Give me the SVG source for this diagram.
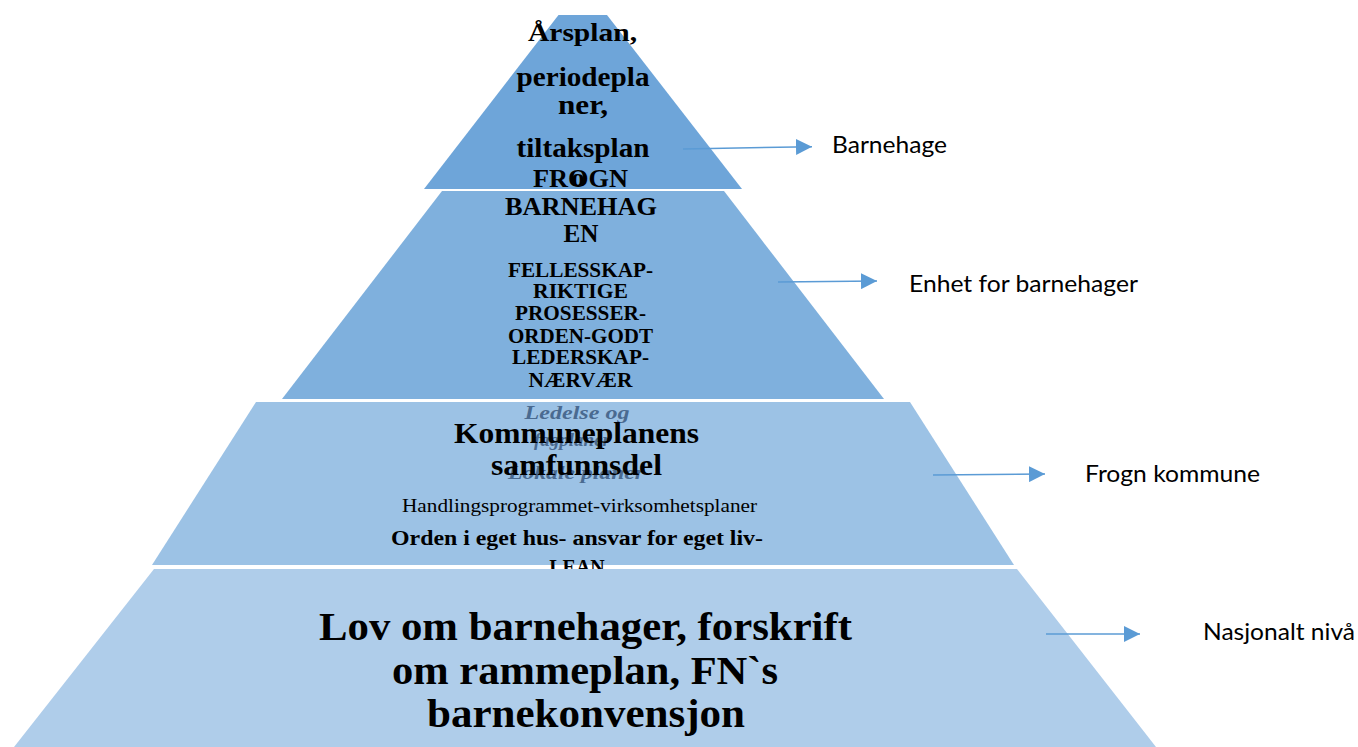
<svg xmlns="http://www.w3.org/2000/svg" width="1358" height="747" viewBox="0 0 1358 747">
<defs>
<style>
.t{font-family:"Liberation Serif","Times New Roman",serif;font-weight:bold;fill:#000;text-anchor:middle}
.g{font-family:"Liberation Serif","Times New Roman",serif;font-weight:bold;font-style:italic;fill:#4a6a90;text-anchor:middle}
.r{font-family:"Liberation Serif","Times New Roman",serif;fill:#000;text-anchor:middle}
.lbl{font-family:Lato,"Open Sans",sans-serif;font-size:24px;fill:#000}
.ar{stroke:#5b9bd5;stroke-width:1.5;fill:none}
</style>
<marker id="ah" viewBox="0 0 10 10" refX="10" refY="5" markerWidth="16" markerHeight="16" markerUnits="userSpaceOnUse" orient="auto">
<path d="M0,0 L10,5 L0,10 z" fill="#5b9bd5"/>
</marker>
</defs>
<rect width="1358" height="747" fill="#fff"/>

<g id="level-barnehage">
<polygon points="558.5,15 607,15 742,189 424,189" fill="#6ea5d9"/>
<text class="t" font-size="26" x="582.5" y="41" textLength="109" lengthAdjust="spacingAndGlyphs">Årsplan,</text>
<text class="t" font-size="27" x="583" y="86" textLength="133" lengthAdjust="spacingAndGlyphs">periodepla</text>
<text class="t" font-size="27" x="583" y="114" textLength="50" lengthAdjust="spacingAndGlyphs">ner,</text>
<text class="t" font-size="27" x="583" y="157" textLength="133" lengthAdjust="spacingAndGlyphs">tiltaksplan</text>
</g>

<g id="level-enhet">
<polygon points="442,191 724,191 884,399 282,399" fill="#7fb0dd"/>
<text class="t" font-size="26" x="580.5" y="187" textLength="95" lengthAdjust="spacingAndGlyphs">FROGN</text>
<text class="t" font-size="26" x="578" y="186">o</text>
<text class="t" font-size="26" x="581" y="215" textLength="152" lengthAdjust="spacingAndGlyphs">BARNEHAG</text>
<text class="t" font-size="26" x="581" y="242" textLength="35" lengthAdjust="spacingAndGlyphs">EN</text>
<text class="t" font-size="20" x="580.5" y="277" textLength="145" lengthAdjust="spacingAndGlyphs">FELLESSKAP-</text>
<text class="t" font-size="20" x="580.5" y="298" textLength="95" lengthAdjust="spacingAndGlyphs">RIKTIGE</text>
<text class="t" font-size="20" x="580.5" y="320" textLength="131" lengthAdjust="spacingAndGlyphs">PROSESSER-</text>
<text class="t" font-size="20" x="580.5" y="343" textLength="145" lengthAdjust="spacingAndGlyphs">ORDEN-GODT</text>
<text class="t" font-size="20" x="580.5" y="364" textLength="137" lengthAdjust="spacingAndGlyphs">LEDERSKAP-</text>
<text class="t" font-size="20" x="580.5" y="387" textLength="104" lengthAdjust="spacingAndGlyphs">NÆRVÆR</text>
</g>

<g id="level-kommune">
<polygon points="256,402 910,402 1014,565 152,565" fill="#9cc2e5"/>
<text class="g" font-size="19" x="577" y="419" textLength="105" lengthAdjust="spacingAndGlyphs">Ledelse og</text>
<text class="g" font-size="19" x="572" y="446">fagplaner</text>
<text class="g" font-size="19" x="576" y="479" textLength="136" lengthAdjust="spacingAndGlyphs">Lokale planer</text>
<text class="t" font-size="30" x="576.5" y="443" textLength="245" lengthAdjust="spacingAndGlyphs">Kommuneplanens</text>
<text class="t" font-size="30" x="576.5" y="475" textLength="171" lengthAdjust="spacingAndGlyphs">samfunnsdel</text>
<text class="r" font-size="18" x="579.5" y="512" textLength="355" lengthAdjust="spacingAndGlyphs">Handlingsprogrammet-virksomhetsplaner</text>
<text class="t" font-size="20" x="577" y="545" textLength="372" lengthAdjust="spacingAndGlyphs">Orden i eget hus- ansvar for eget liv-</text>
<text class="t" font-size="20" x="577" y="574">LEAN</text>
</g>

<g id="level-nasjonalt">
<polygon points="154,569 1017,569 1156,747 14,747" fill="#afcdea"/>
<text class="t" font-size="40" x="585.5" y="640" textLength="533" lengthAdjust="spacingAndGlyphs">Lov om barnehager, forskrift</text>
<text class="t" font-size="40" x="585" y="683.5" textLength="386" lengthAdjust="spacingAndGlyphs">om rammeplan, FN`s</text>
<text class="t" font-size="40" x="586" y="727" textLength="318" lengthAdjust="spacingAndGlyphs">barnekonvensjon</text>
</g>

<g id="connectors">
<line class="ar" x1="683" y1="149" x2="812" y2="146.7" marker-end="url(#ah)"/>
<line class="ar" x1="778" y1="282" x2="877" y2="281" marker-end="url(#ah)"/>
<line class="ar" x1="933" y1="475" x2="1045" y2="474" marker-end="url(#ah)"/>
<line class="ar" x1="1046" y1="634" x2="1140" y2="634" marker-end="url(#ah)"/>
</g>

<g id="labels">
<text class="lbl" x="832" y="153" textLength="115" lengthAdjust="spacingAndGlyphs">Barnehage</text>
<text class="lbl" x="909" y="292" textLength="229" lengthAdjust="spacingAndGlyphs">Enhet for barnehager</text>
<text class="lbl" x="1085" y="482" textLength="175" lengthAdjust="spacingAndGlyphs">Frogn kommune</text>
<text class="lbl" x="1203" y="640" textLength="152" lengthAdjust="spacingAndGlyphs">Nasjonalt nivå</text>
</g>
</svg>
